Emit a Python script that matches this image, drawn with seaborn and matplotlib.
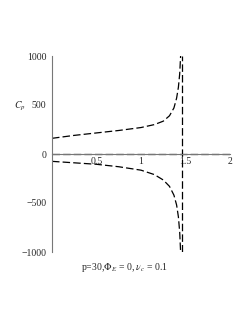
import numpy as np
import pandas as pd
import matplotlib
matplotlib.use("Agg")
import matplotlib.pyplot as plt
import seaborn as sns

# Data
upper_x = [0.0, 0.25, 0.5, 0.75, 1.0, 1.15, 1.25, 1.32, 1.37, 1.40, 1.42, 1.435, 1.445]
upper_y = [160, 190, 215, 240, 270, 300, 335, 390, 470, 570, 680, 820, 1000]
lower_x = [0.0, 0.25, 0.5, 0.75, 1.0, 1.15, 1.25, 1.32, 1.37, 1.40, 1.42, 1.435, 1.445]
lower_y = [-75, -90, -105, -130, -165, -210, -265, -330, -420, -520, -640, -800, -1000]
asym_x = [1.46, 1.46]
asym_y = [-1000, 1000]
zero_x = [0.0, 2.0]
zero_y = [0, 0]
xticks = [0.5, 1, 1.5, 2]
xticklabels = ["0.5", "1", "1.5", "2"]
yticks = [-1000, -500, 0, 500, 1000]
yticklabels = ["\u22121000", "\u2212500", "0", "500", "1000"]

sns.set_style("white")
plt.rcParams['font.family'] = ['Liberation Serif', 'DejaVu Serif']
plt.rcParams['mathtext.fontset'] = 'stix'

fig = plt.figure(figsize=(2.49, 3.23), dpi=100)
ax = fig.add_axes([52/249, 1-252/323, (230-52)/249, (252-56)/323])

dash = (6, 2.5)
for xs, ys in [(upper_x, upper_y), (lower_x, lower_y), (asym_x, asym_y), (zero_x, zero_y)]:
    d = pd.DataFrame({"x": xs, "y": ys})
    sns.lineplot(data=d, x="x", y="y", ax=ax, color="black", lw=0.9,
                 sort=False, estimator=None)
    ax.lines[-1].set_linestyle((0, dash))

ax.set_xlim(0, 2)
ax.set_ylim(-1000, 1000)
ax.set_xlabel("")
ax.set_ylabel("")
for s in ["top", "right"]:
    ax.spines[s].set_visible(False)
ax.spines["bottom"].set_position(("data", 0))
for s in ["bottom", "left"]:
    ax.spines[s].set_color("#777777")
    ax.spines[s].set_linewidth(0.8)
ax.set_xticks(xticks)
ax.set_xticklabels(xticklabels)
ax.set_yticks(yticks)
ax.set_yticklabels(yticklabels)
ax.tick_params(axis="both", labelsize=7, length=2, width=0.5, color="#777777", pad=2)
ax.tick_params(axis="x", direction="inout", length=3, pad=1)
ax.tick_params(axis="y", direction="out")

fig.text(20/249, 1-106/323, r"$C_p$", fontsize=7, ha="center", va="center")
fig.text(125/249, 1-268/323, r"p=30,$\Phi_E$ = 0, $\nu_c$ = 0.1", fontsize=7,
         ha="center", va="center")

fig.savefig("out.png", dpi=100)
